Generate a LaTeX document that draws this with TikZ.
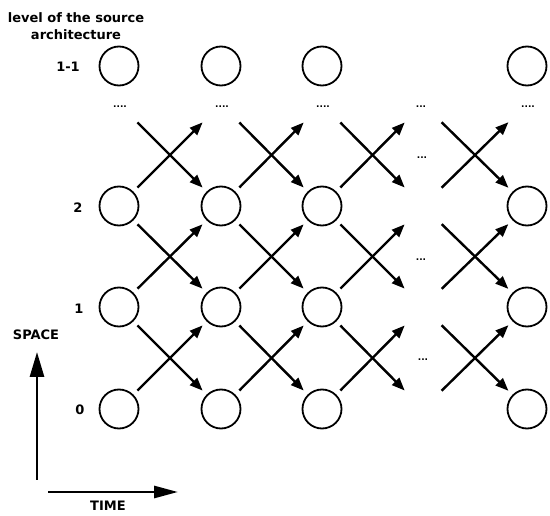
\documentclass[tikz,border=0pt]{standalone}
\usepackage{fontspec}
\setmainfont{DejaVu Sans}
\usetikzlibrary{arrows.meta}
\begin{document}
\begin{tikzpicture}[x=1pt,y=-1pt,
  state/.style={circle,draw,line width=1.8pt,minimum size=39pt,inner sep=0pt},
  flow/.style={line width=2.4pt,shorten <=26pt,shorten >=26pt,
               -{Triangle[length=13pt,width=10pt]}},
  axis/.style={line width=2.8pt,-{Triangle[length=25pt,width=14pt]}},
  lbl/.style={font=\bfseries\fontsize{13}{17}\selectfont,inner sep=0pt},
  dots/.style={font=\bfseries\fontsize{9}{10}\selectfont,inner sep=0pt}]
\useasboundingbox (0,0) rectangle (550,516);

% processor states: columns 1,2,3,5 and rows 0,1,2 plus level l-1
\foreach \c/\x in {1/119,2/221,3/322,5/527}{
  \foreach \r/\y in {0/409,1/307,2/206,L/66}{
    \node[state] (n\c-\r) at (\x,\y) {};
  }
  % virtual top row reached by the upper arrows
  \coordinate (n\c-3) at (\x,104);
}
% elided column
\foreach \r/\y in {0/409,1/307,2/206,3/104}{
  \coordinate (n4-\r) at (423,\y);
}

% exchanges between neighbouring columns
\foreach \c [evaluate=\c as \d using int(\c+1)] in {1,2,3,4}{
  \foreach \r [evaluate=\r as \s using int(\r+1)] in {0,1,2}{
    \draw[flow] (n\c-\r.center) -- (n\d-\s.center);
    \draw[flow] (n\c-\s.center) -- (n\d-\r.center);
  }
}

% ellipses
\foreach \c/\x in {1/120,2/222,3/323,5/528}{
  \node[dots] (d\c) at (\x,107) {....};
}
\node[dots] (d4) at (421,107) {...};
\node[dots] (e3) at (422,158) {...};
\node[dots] (e2) at (421,260) {...};
\node[dots] (e1) at (423,360) {...};

% row labels
\node[lbl] (lL) at (68,67) {1-1};
\node[lbl] (l2) at (78,208) {2};
\node[lbl] (l1) at (79,309) {1};
\node[lbl] (l0) at (80,410) {0};
\node[lbl,align=center] (title) at (76,26)
  {level of the source\\architecture};

% axes
\coordinate (sp0) at (37,480);
\coordinate (sp1) at (37,352);
\coordinate (ti0) at (48,492);
\coordinate (ti1) at (178,492);
\draw[axis] (sp0) -- (sp1);
\draw[axis,-{Triangle[length=24pt,width=12pt]}] (ti0) -- (ti1);
\node[lbl] (space) at (36,335) {SPACE};
\node[lbl] (time) at (108,506) {TIME};
\end{tikzpicture}
\end{document}
